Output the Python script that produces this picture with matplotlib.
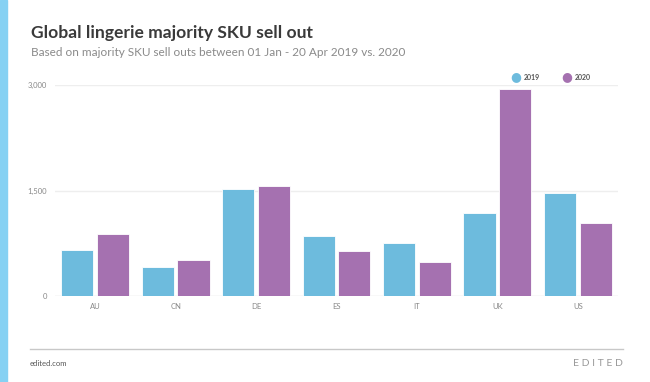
import matplotlib.pyplot as plt
import numpy as np

# data
countries = ['AU', 'CN', 'DE', 'ES', 'IT', 'UK', 'US']
sku_2019 = [650, 413, 1523, 845, 757, 1175, 1460]
sku_2020 = [874, 512, 1571, 632, 487, 2947, 1032]
y_ticks = [0, 1500, 3000]
y_labels = ['0', '1,500', '3,000']

c19 = '#6dbbdd'
c20 = '#a571b0'

plt.rcParams['font.family'] = ['Lato', 'DejaVu Sans']

fig = plt.figure(figsize=(6.5, 3.82), dpi=100)
fig.patch.set_facecolor('white')

# light blue stripe down the left side
fig.patches.append(plt.Rectangle((0, 0), 7 / 650, 1, transform=fig.transFigure,
                                 color='#86d1f3', zorder=0))

ax = fig.add_axes([55 / 650, 1 - 295.7 / 382, 563 / 650, 210.4 / 382])
x = np.arange(len(countries))
w = 0.4
ax.bar(x - w / 2 - 0.022, sku_2019, w, color=c19, edgecolor='white', lw=0.6, zorder=3)
ax.bar(x + w / 2 + 0.022, sku_2020, w, color=c20, edgecolor='white', lw=0.6, zorder=3)

ax.set_xlim(-0.5, len(countries) - 0.5)
ax.set_ylim(0, 3000)
ax.set_yticks(y_ticks)
ax.set_yticklabels(y_labels)
ax.set_xticks(x)
ax.set_xticklabels(countries)
ax.tick_params(length=0, labelsize=5.5, labelcolor='#888888')
ax.tick_params(axis='y', pad=6)
ax.tick_params(axis='x', pad=5)
ax.grid(axis='y', color='#eeeeee', lw=1, zorder=0)
ax.set_axisbelow(True)
for s in ax.spines.values():
    s.set_visible(False)
ax.axhline(0, color='#eeeeee', lw=1, zorder=1)

# legend markers drawn above the plot
fig.text(516 / 650, 1 - 77 / 382, '\u25cf', color=c19, fontsize=9, ha='center', va='center',
         family='DejaVu Sans')
fig.text(524 / 650, 1 - 77 / 382, '2019', color='#555555', fontsize=5, fontweight='bold',
         va='center')
fig.text(567 / 650, 1 - 77 / 382, '\u25cf', color=c20, fontsize=9, ha='center', va='center',
         family='DejaVu Sans')
fig.text(575 / 650, 1 - 77 / 382, '2020', color='#555555', fontsize=5, fontweight='bold',
         va='center')

# titles
fig.text(31 / 650, 1 - 33 / 382, 'Global lingerie majority SKU sell out', fontsize=12.6,
         fontweight='bold', color='#3a3a3a', va='center')
fig.text(31 / 650, 1 - 52 / 382,
         'Based on majority SKU sell outs between 01 Jan - 20 Apr 2019 vs. 2020',
         fontsize=8.5, color='#8a8a8a', va='center')

# footer
fig.add_artist(plt.Line2D([30 / 650, 623 / 650], [1 - 349 / 382] * 2,
                          transform=fig.transFigure, color='#c8c8c8', lw=1))
fig.text(30 / 650, 1 - 363 / 382, 'edited.com', fontsize=5.5, color='#555555', va='center')
fig.text(623 / 650, 1 - 363 / 382, 'E D I T E D', fontsize=7.5, color='#999999',
         va='center', ha='right')

fig.savefig('out.png', dpi=100)
